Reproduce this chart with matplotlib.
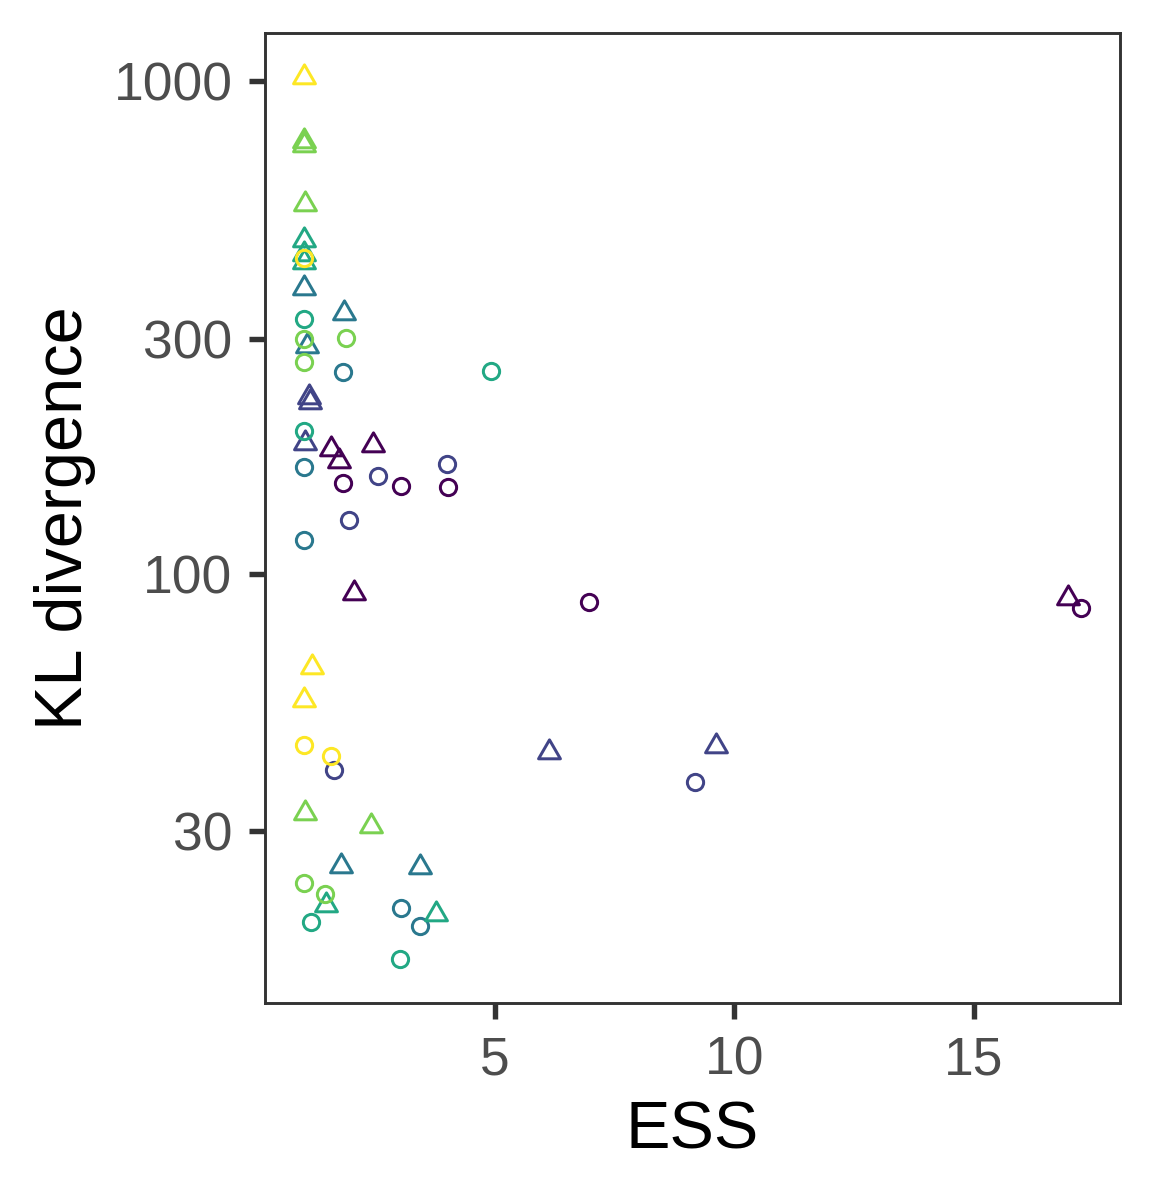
import numpy as np
import matplotlib
matplotlib.use("Agg")
import matplotlib.pyplot as plt
from matplotlib.path import Path

plt.rcParams['font.family'] = ['Liberation Sans', 'DejaVu Sans']

# ---- data ----
groups = ["g1", "g2", "g3", "g4", "g5", "g6"]
group_colors = ["#440154", "#414487", "#2A788E", "#22A884", "#7AD151", "#FDE725"]

# triangles (method B) per group
tri_ess = [
    [1.57, 1.74, 2.44, 2.04, 16.97],
    [1.10, 1.12, 1.02, 6.13, 9.61],
    [1.00, 1.83, 1.07, 1.78, 3.43],
    [1.00, 1.00, 1.00, 1.47, 3.77],
    [1.00, 1.00, 1.03, 1.03, 2.40],
    [1.00, 1.17, 1.00],
]
tri_kl = [
    [178.8, 169.1, 182.7, 91.5, 89.4],
    [228.2, 223.3, 184.2, 43.4, 44.6],
    [379.8, 338.7, 289.4, 25.5, 25.4],
    [475.9, 445.9, 429.5, 21.2, 20.4],
    [753.9, 742.3, 561.8, 32.6, 30.7],
    [1018.8, 64.7, 55.3],
]
# circles (method A) per group
circ_ess = [
    [1.81, 3.03, 4.02, 6.97, 17.25],
    [2.56, 3.99, 1.94, 1.63, 9.18],
    [1.81, 1.00, 1.00, 3.03, 3.43],
    [1.00, 4.92, 1.00, 1.15, 3.00],
    [1.00, 1.88, 1.00, 1.00, 1.44],
    [1.00, 1.00, 1.57],
]
circ_kl = [
    [152.6, 150.5, 150.2, 87.6, 85.0],
    [157.6, 166.8, 128.2, 39.9, 37.7],
    [256.7, 164.9, 117.2, 20.9, 19.2],
    [329.3, 257.9, 195.1, 19.6, 16.5],
    [300.0, 300.4, 269.0, 23.5, 22.4],
    [437.7, 44.8, 42.6],
]

x_ticks = [5, 10, 15]
y_ticks = [30, 100, 300, 1000]
y_ticklabels = ["30", "100", "300", "1000"]

# ---- figure ----
fig = plt.figure(figsize=(3.85, 4.0), dpi=300)
ax = fig.add_axes([265/1155, 1 - 1003/1200, (1120-265)/1155, (1003-33)/1200])

# centroid-centred equilateral triangle (like R pch 2)
tri_path = Path([(0, 1), (-0.8660254, -0.5), (0.8660254, -0.5), (0, 1)],
                [Path.MOVETO, Path.LINETO, Path.LINETO, Path.CLOSEPOLY])

ew = 0.72
for i, col in enumerate(group_colors):
    ax.plot(tri_ess[i], tri_kl[i], linestyle='none', marker=tri_path,
            markersize=6.06, markerfacecolor='none', markeredgecolor=col,
            markeredgewidth=ew)
    ax.plot(circ_ess[i], circ_kl[i], linestyle='none', marker='o',
            markersize=3.9, markerfacecolor='none', markeredgecolor=col,
            markeredgewidth=ew)

ax.set_yscale('log')
ax.margins(x=0.05, y=0.05)
ax.set_xticks(x_ticks)
ax.set_yticks(y_ticks)
ax.set_yticklabels(y_ticklabels)
ax.yaxis.set_minor_locator(matplotlib.ticker.NullLocator())
ax.xaxis.set_minor_locator(matplotlib.ticker.NullLocator())

for sp in ax.spines.values():
    sp.set_color('#333333')
    sp.set_linewidth(0.7)

ax.tick_params(axis='both', which='major', length=3.8, width=1.3,
               color='#333333', labelcolor='#4D4D4D', labelsize=12.8, pad=4.0)

ax.set_xlabel("ESS", fontsize=16, color='black', labelpad=3.6)
ax.set_ylabel("KL divergence", fontsize=16, color='black', labelpad=4.2)

fig.savefig("out.png", dpi=300)
